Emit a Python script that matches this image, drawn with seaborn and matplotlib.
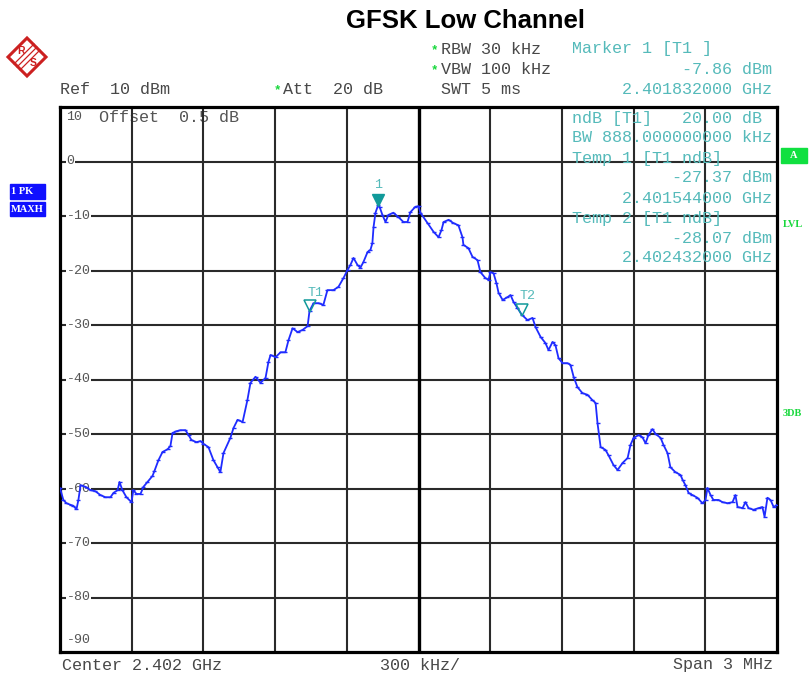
import numpy as np
import pandas as pd
import matplotlib
matplotlib.use("Agg")
import matplotlib.pyplot as plt
import matplotlib.transforms as mtransforms
from matplotlib.patches import Polygon, Rectangle
import seaborn as sns

# ---- analyzer settings ----
center_ghz = 2.402
span_ghz = 0.003
ref_level_dbm = 10
y_ticks = [10, 0, -10, -20, -30, -40, -50, -60, -70, -80, -90]

# ---- max-hold trace: offset from center (kHz) and level (dBm) ----
trace_offset_khz = [
    -1500, -1486, -1473, -1456, -1444, -1431, -1423, -1414, -1393, -1372,
    -1352, -1331, -1310, -1289, -1276, -1259, -1251, -1239, -1222, -1201,
    -1193, -1180, -1163, -1151, -1134, -1113, -1105, -1088, -1071, -1050,
    -1038, -1029, -1013, -996, -975, -962, -950, -929, -912, -900,
    -879, -858, -841, -829, -816, -787, -774, -757, -736, -716,
    -703, -682, -661, -640, -628, -619, -598, -577, -557, -544,
    -527, -506, -485, -464, -456, -439, -418, -398, -381, -356,
    -335, -314, -297, -285, -272, -255, -243, -230, -213, -201,
    -193, -188, -180, -168, -163, -151, -138, -126, -105, -84,
    -63, -46, -34, -13, 0, 8, 38, 63, 84, 96,
    105, 126, 146, 167, 184, 188, 209, 226, 247, 259,
    280, 293, 301, 314, 326, 335, 352, 372, 385, 398,
    414, 432, 456, 477, 490, 511, 531, 544, 561, 573,
    586, 603, 623, 636, 649, 665, 686, 707, 728, 741,
    749, 762, 782, 795, 816, 833, 854, 875, 887, 900,
    921, 937, 950, 962, 979, 992, 1013, 1025, 1042, 1054,
    1075, 1096, 1105, 1117, 1130, 1146, 1167, 1188, 1201, 1209,
    1222, 1234, 1255, 1272, 1293, 1314, 1326, 1335, 1356, 1368,
    1381, 1402, 1423, 1439, 1448, 1460, 1473, 1486, 1500,
]
trace_level_dbm = [
    -59.9, -62.1, -62.7, -63.0, -63.2, -63.8, -62.1, -59.4, -59.7, -60.3,
    -60.5, -61.2, -61.6, -61.6, -60.8, -60.3, -58.8, -60.3, -61.6, -62.5,
    -60.3, -61.0, -61.0, -59.7, -58.8, -57.7, -56.8, -54.8, -53.3, -52.8,
    -52.2, -49.8, -49.5, -49.3, -49.3, -50.2, -51.1, -51.5, -51.3, -51.8,
    -52.4, -54.8, -56.1, -57.0, -53.5, -50.7, -48.9, -47.4, -47.8, -43.8,
    -40.6, -39.5, -40.6, -39.7, -36.8, -35.5, -35.9, -35.0, -35.0, -32.8,
    -30.6, -31.3, -30.9, -30.2, -27.4, -26.0, -26.0, -26.3, -23.6, -23.6,
    -23.0, -21.4, -19.9, -19.0, -17.7, -19.0, -19.5, -18.4, -16.6, -16.2,
    -15.0, -12.0, -9.4, -7.9, -8.3, -9.8, -11.1, -9.8, -9.4, -10.2,
    -11.1, -11.1, -9.3, -8.3, -8.2, -9.4, -11.3, -12.9, -13.9, -12.6,
    -11.1, -10.7, -11.3, -11.7, -13.9, -15.3, -15.9, -17.5, -18.1, -20.3,
    -21.4, -21.7, -20.3, -20.5, -22.3, -24.1, -25.4, -24.9, -24.5, -25.8,
    -26.9, -28.1, -29.1, -28.7, -30.4, -32.2, -33.3, -34.6, -33.1, -33.7,
    -36.1, -37.0, -37.0, -37.3, -39.5, -41.4, -42.5, -42.8, -43.8, -44.3,
    -48.0, -52.4, -52.9, -53.9, -55.7, -56.6, -55.3, -54.4, -52.0, -50.7,
    -50.2, -50.6, -51.7, -50.2, -49.1, -50.0, -50.7, -52.0, -53.5, -56.1,
    -57.0, -57.5, -58.4, -59.4, -60.8, -61.2, -61.7, -62.7, -62.1, -59.9,
    -61.2, -62.1, -62.1, -62.5, -62.7, -62.5, -61.2, -63.4, -63.6, -62.5,
    -63.6, -63.9, -63.6, -63.4, -65.2, -61.7, -62.1, -63.4, -63.0,
]

# ---- markers ----
marker_names = ["1", "T1", "T2"]
marker_freq_ghz = [2.401832, 2.401544, 2.402432]
marker_level_dbm = [-7.86, -27.37, -28.07]

TRACE = "#1f2cff"
TEAL = "#55baba"
TEAL_DARK = "#119a9a"
GREY = "#484848"
GREEN = "#18d83c"

sns.set_style("white")
plt.rcParams["font.family"] = ["Liberation Mono", "DejaVu Sans Mono"]

W, H = 810, 673
fig = plt.figure(figsize=(W / 100, H / 100), dpi=100)


def fx(px):
    return px / W


def fy(py):
    return 1 - py / H


ax = fig.add_axes([fx(60), fy(652), fx(777) - fx(60), fy(107) - fy(652)])

df = pd.DataFrame({
    "freq_ghz": center_ghz + np.array(trace_offset_khz) / 1e6,
    "level_dbm": trace_level_dbm,
})
sns.lineplot(data=df, x="freq_ghz", y="level_dbm", ax=ax, sort=False,
             color=TRACE, linewidth=1.3, marker="_", markersize=3.5,
             markeredgewidth=1.0, markeredgecolor=TRACE, zorder=5)

f0 = center_ghz - span_ghz / 2
f1 = center_ghz + span_ghz / 2
ax.set_xlim(f0, f1)
ax.set_ylim(ref_level_dbm - 100, ref_level_dbm)
ax.set_xticks([])
ax.set_yticks([])
ax.set_xlabel("")
ax.set_ylabel("")
for s in ax.spines.values():
    s.set_linewidth(2.3)
    s.set_color("black")

# graticule
for v in y_ticks[1:-1]:
    ax.axhline(v, color="#2a2a2a", lw=1.5, zorder=1)
for i in range(1, 10):
    xv = f0 + i * span_ghz / 10
    ax.axvline(xv, color="black" if i == 5 else "#2a2a2a",
               lw=2.4 if i == 5 else 1.5, zorder=1)

# level labels
blend = mtransforms.blended_transform_factory(ax.transAxes, ax.transData)
for v in y_ticks[1:-1]:
    ax.text(0.009, v, f"{v}", transform=blend, ha="left", va="center",
            fontsize=9.6, color="#555555", zorder=3,
            bbox=dict(fc="white", ec="none", pad=0.6))
ax.text(0.009, 1 - 10 / 545, f"{y_ticks[0]}", transform=ax.transAxes,
        ha="left", va="center", fontsize=9.6, color="#555555")
ax.text(0.009, 12 / 545, f"{y_ticks[-1]}", transform=ax.transAxes,
        ha="left", va="center", fontsize=9.6, color="#555555")
ax.text(39 / 717, 1 - 10 / 545, "Offset  0.5 dB", transform=ax.transAxes,
        ha="left", va="center", fontsize=12.1, color="#555555", zorder=0)

# markers
for name, fm, lm in zip(marker_names, marker_freq_ghz, marker_level_dbm):
    tri = mtransforms.offset_copy(ax.transData, fig=fig, x=0, y=3.2, units="points")
    if name == "1":
        ax.plot([fm], [lm], marker="v", ms=8, color=TEAL_DARK,
                transform=tri, zorder=6)
        lab = mtransforms.offset_copy(ax.transData, fig=fig, x=0, y=14, units="points")
        ax.text(fm, lm, name, transform=lab, ha="center", va="center",
                fontsize=9.6, color=TEAL, zorder=6)
    else:
        ax.plot([fm], [lm], marker="v", ms=8, mfc="none", mec=TEAL_DARK,
                mew=1.1, transform=tri, zorder=6)
        lab = mtransforms.offset_copy(ax.transData, fig=fig, x=4, y=13, units="points")
        ax.text(fm, lm, name, transform=lab, ha="center", va="center",
                fontsize=9.6, color=TEAL, zorder=6)

# marker info panel
info_fs = 12.1
panel = [
    ("ndB [T1]   20.00 dB", 118),
    ("BW 888.000000000 kHz", 138),
    ("Temp 1 [T1 ndB]", 158),
    ("          -27.37 dBm", 178),
    ("     2.401544000 GHz", 198),
    ("Temp 2 [T1 ndB]", 218),
    ("          -28.07 dBm", 238),
    ("     2.402432000 GHz", 258),
]
for txt, py in panel:
    fig.text(fx(572), fy(py), txt, ha="left", va="center", fontsize=info_fs,
             color=TEAL, zorder=0)

header_teal = [
    ("Marker 1 [T1 ]", 49),
    ("           -7.86 dBm", 69),
    ("     2.401832000 GHz", 89),
]
for txt, py in header_teal:
    fig.text(fx(572), fy(py), txt, ha="left", va="center", fontsize=info_fs, color=TEAL)

fig.text(fx(441), fy(49), "RBW 30 kHz", ha="left", va="center", fontsize=info_fs, color=GREY)
fig.text(fx(441), fy(69), "VBW 100 kHz", ha="left", va="center", fontsize=info_fs, color=GREY)
fig.text(fx(441), fy(89), "SWT 5 ms", ha="left", va="center", fontsize=info_fs, color=GREY)
fig.text(fx(60), fy(89), "Ref  10 dBm", ha="left", va="center", fontsize=info_fs, color=GREY)
fig.text(fx(283), fy(89), "Att  20 dB", ha="left", va="center", fontsize=info_fs, color=GREY)
for sx, sy in [(434, 50), (434, 70), (277, 90)]:
    fig.text(fx(sx), fy(sy), "*", ha="center", va="center", fontsize=9,
             color=GREEN, fontweight="bold")

fig.text(fx(62), fy(665), "Center 2.402 GHz", ha="left", va="center", fontsize=info_fs, color=GREY)
fig.text(fx(420), fy(665), "300 kHz/", ha="center", va="center", fontsize=info_fs, color=GREY)
fig.text(fx(773), fy(665), "Span 3 MHz", ha="right", va="center", fontsize=info_fs, color=GREY)

fig.text(fx(465), fy(21), "GFSK Low Channel", ha="center", va="center",
         fontsize=18.5, fontweight="bold", family=["Liberation Sans", "DejaVu Sans"],
         color="black")

# trace status boxes
for label, y0, y1 in [("1 PK", 184, 199), ("MAXH", 202, 216)]:
    fig.patches.append(Rectangle((fx(10), fy(y1)), fx(45) - fx(10), fy(y0) - fy(y1),
                                 transform=fig.transFigure, color="#1010ff", zorder=1))
    fig.text(fx(11), fy((y0 + y1) / 2), label, ha="left", va="center", fontsize=7.5,
             color="white", fontweight="bold", family=["Liberation Serif", "DejaVu Serif"])

fig.patches.append(Rectangle((fx(781), fy(163)), fx(807) - fx(781), fy(148) - fy(163),
                             transform=fig.transFigure, color="#10e040", zorder=1))
fig.text(fx(794), fy(155.5), "A", ha="center", va="center", fontsize=7.5, color="white",
         fontweight="bold", family=["Liberation Serif", "DejaVu Serif"])
fig.text(fx(783), fy(225), "LVL", ha="left", va="center", fontsize=7.5, color=GREEN,
         fontweight="bold", family=["Liberation Serif", "DejaVu Serif"])
fig.text(fx(783), fy(414), "3DB", ha="left", va="center", fontsize=7.5, color=GREEN,
         fontweight="bold", family=["Liberation Serif", "DejaVu Serif"])

# R&S logo
RED = "#cc2020"
cx, cy, r = 27, 57, 19
diamond = [(cx, cy - r), (cx + r, cy), (cx, cy + r), (cx - r, cy)]
fig.patches.append(Polygon([(fx(a), fy(b)) for a, b in diamond], closed=True,
                           transform=fig.transFigure, fill=False, ec=RED, lw=2.2))
for d in (-3, 0, 3):
    fig.lines.append(plt.Line2D([fx(cx - 10 + d), fx(cx + 10 + d)],
                                [fy(cy + 10 + d), fy(cy - 10 + d)],
                                transform=fig.transFigure, color=RED, lw=0.9))
fig.text(fx(cx - 6), fy(cy - 6), "R", ha="center", va="center", fontsize=7.5,
         color=RED, fontweight="bold", family=["Liberation Sans", "DejaVu Sans"])
fig.text(fx(cx + 6), fy(cy + 6), "S", ha="center", va="center", fontsize=7.5,
         color=RED, fontweight="bold", family=["Liberation Sans", "DejaVu Sans"])

fig.savefig("out.png", dpi=100, facecolor="white")
